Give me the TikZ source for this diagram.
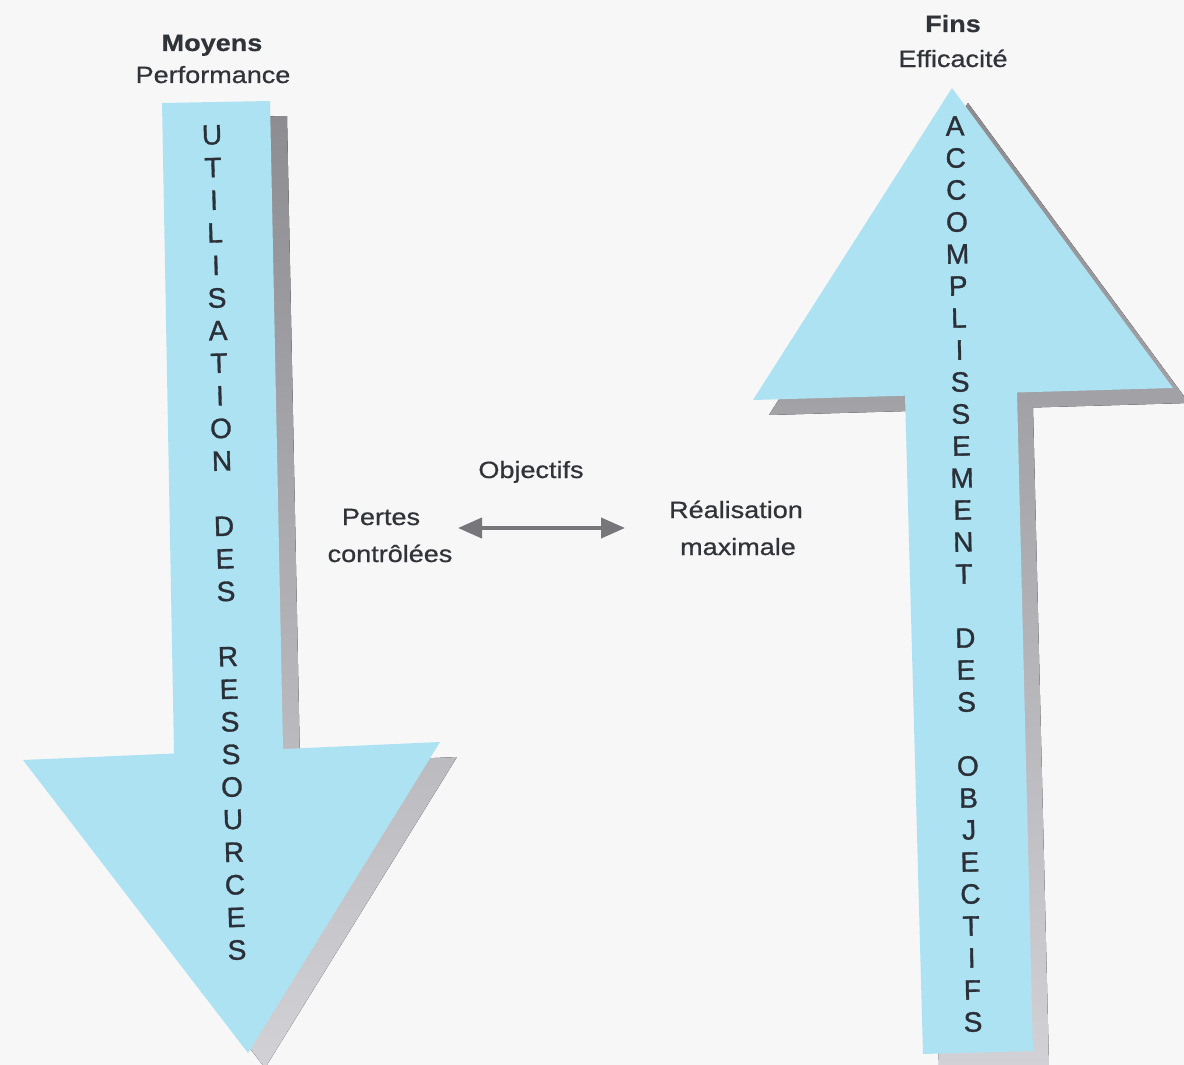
\documentclass[tikz,border=0pt]{standalone}
\usepackage{fontspec}
\setmainfont{Liberation Sans}
\newfontfamily\lblfont[FakeStretch=1.15,FakeBold=0.7]{Liberation Sans}
\newfontfamily\letfont[FakeBold=1.2]{Liberation Sans}
\usetikzlibrary{arrows.meta}
\definecolor{paper}{HTML}{F7F7F8}
\definecolor{arrowblue}{HTML}{ADE2F3}
\definecolor{shadowdark}{HTML}{8C8C91}
\definecolor{shadowlight}{HTML}{D2D2D6}
\definecolor{lettercol}{HTML}{2B3038}
\definecolor{labelcol}{HTML}{303338}
\definecolor{dblarrow}{HTML}{77777B}
\begin{document}
\begin{tikzpicture}[x=1pt,y=-1pt,
  letter/.style={font=\letfont\fontsize{28}{30}\selectfont, text=lettercol, inner sep=0pt},
  lbl/.style={font=\lblfont\fontsize{23.5}{26}\selectfont, text=labelcol, inner sep=0pt, anchor=base},
  lblbold/.style={lbl, font=\lblfont\bfseries\fontsize{23.5}{26}\selectfont},
  bigshadow/.style={top color=shadowdark, bottom color=shadowlight},
  bigarrow/.style={fill=arrowblue}]
\useasboundingbox (0,0) rectangle (1184,1065);
\fill[paper] (0,0) rectangle (1184,1065);

% left arrow (down): shadow then body
\begin{scope}[shift={(17,15)}]
\fill[bigshadow] (162,103) -- (270,101) -- (283,749) -- (440,742) -- (248,1053) -- (23,760) -- (174,753.5) -- cycle;
\end{scope}
\fill[bigarrow] (162,103) -- (270,101) -- (283,749) -- (440,742) -- (248,1053) -- (23,760) -- (174,753.5) -- cycle;

% right arrow (up): shadow then body
\begin{scope}[shift={(16,15)}]
\fill[bigshadow] (952,88) -- (1173,388) -- (1017,392.5) -- (1033,1051) -- (923,1054) -- (905,395.7) -- (753,400) -- cycle;
\end{scope}
\fill[bigarrow] (952,88) -- (1173,388) -- (1017,392.5) -- (1033,1051) -- (923,1054) -- (905,395.7) -- (753,400) -- cycle;

% vertical letters
\foreach \c/\k in {U/0,T/1,I/2,L/3,I/4,S/5,A/6,T/7,I/8,O/9,N/10,D/12,E/13,S/14,R/16,E/17,S/18,S/19,O/20,U/21,R/22,C/23,E/24,S/25}
  \node[letter, rotate=1.7] (l\k) at ({212+\k},{135+32.6*\k}) {\c};
\foreach \c/\k in {A/0,C/1,C/2,O/3,M/4,P/5,L/6,I/7,S/8,S/9,E/10,M/11,E/12,N/13,T/14,D/16,E/17,S/18,O/20,B/21,J/22,E/23,C/24,T/25,I/26,F/27,S/28}
  \node[letter, rotate=1.2] (r\k) at ({955+0.643*\k},{126+32*\k}) {\c};

% titles
\node[lblbold] (moyens) at (212,51) {Moyens};
\node[lbl] (perf) at (213,83) {Performance};
\node[lblbold] (fins) at (953,32) {Fins};
\node[lbl] (eff) at (953,67) {Efficacité};

% middle labels
\node[lbl] (obj) at (531,478) {Objectifs};
\node[lbl] (pertes) at (381,525) {Pertes};
\node[lbl] (controlees) at (390,562) {contrôlées};
\node[lbl] (real) at (736,518) {Réalisation};
\node[lbl] (maxi) at (738,555) {maximale};

\coordinate (la) at (458,528);
\coordinate (ra) at (625,528);
\draw[dblarrow, line width=4pt, {Triangle[length=24pt,width=20pt]}-{Triangle[length=24pt,width=20pt]}] (la) -- (ra);
\end{tikzpicture}
\end{document}
